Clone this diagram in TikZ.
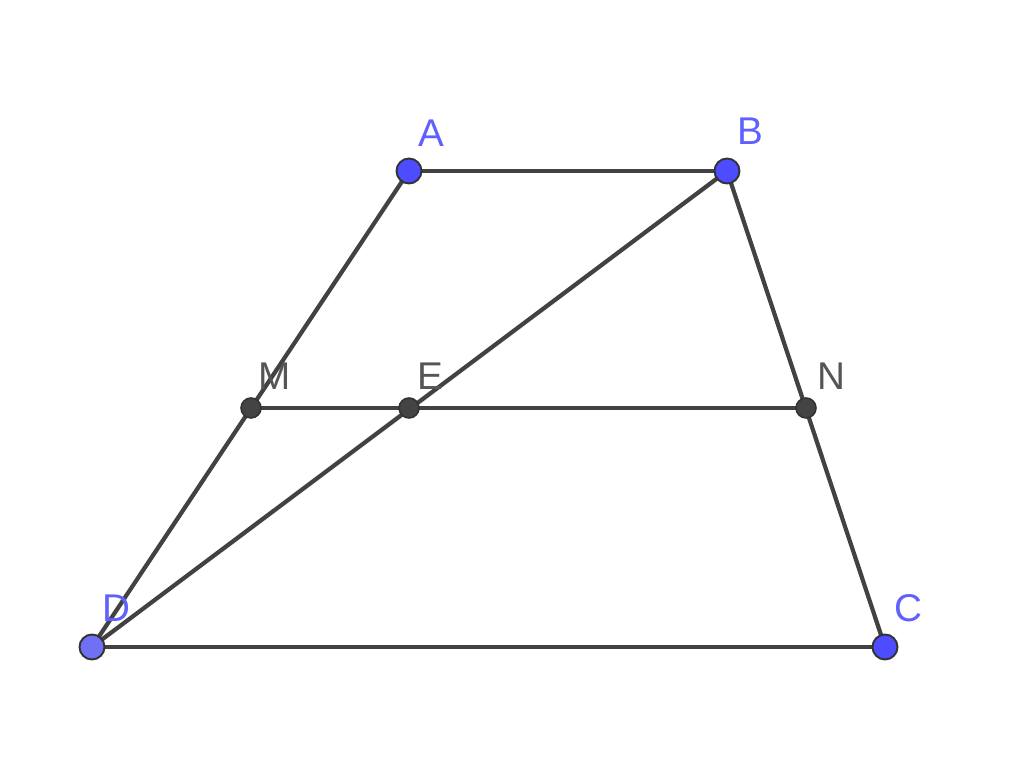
\documentclass[tikz,border=0pt]{standalone}
\usepackage{fontspec}
\setmainfont{Liberation Sans}
\definecolor{lineg}{HTML}{424242}
\definecolor{ptblue}{HTML}{4D4DFF}
\definecolor{ptblueD}{HTML}{7070F5}
\definecolor{lblblue}{HTML}{6060FF}
\definecolor{lblgray}{HTML}{555555}
\definecolor{ptdark}{HTML}{444444}
\begin{document}
\begin{tikzpicture}[x=0.02cm,y=-0.02cm,
  seg/.style={draw=lineg,line width=2.4pt},
  bpt/.style={circle,fill=ptblue,draw=black!80,line width=1.1pt,minimum size=0.5cm,inner sep=0pt},
  dpt/.style={circle,fill=ptdark,draw=black!80,line width=0.9pt,minimum size=0.4cm,inner sep=0pt},
  blbl/.style={text=lblblue,font=\fontsize{22}{22}\selectfont,inner sep=0pt},
  glbl/.style={text=lblgray,font=\fontsize{22}{22}\selectfont,inner sep=0pt}]
\useasboundingbox (0,0) rectangle (1024,759);
\coordinate (a) at (409,171);
\coordinate (b) at (727,171);
\coordinate (c) at (885,647);
\coordinate (d) at (92,647);
\coordinate (m) at (251,408);
\coordinate (e) at (409,408);
\coordinate (n) at (806,408);
\draw[seg] (a) -- (b);
\draw[seg] (a) -- (d);
\draw[seg] (b) -- (c);
\draw[seg] (d) -- (c);
\draw[seg] (b) -- (d);
\draw[seg] (m) -- (n);
\node[dpt] (M) at (m) {};
\node[dpt] (E) at (e) {};
\node[dpt] (N) at (n) {};
\node[bpt] (A) at (a) {};
\node[bpt] (B) at (b) {};
\node[bpt] (C) at (c) {};
\node[bpt,fill=ptblueD] (D) at (d) {};
\node[blbl] (lA) at (431,133) {A};
\node[blbl] (lB) at (750,131) {B};
\node[blbl] (lC) at (908,608) {C};
\node[blbl] (lD) at (116,608) {D};
\node[glbl] (lM) at (275,376) {M};
\node[glbl] (lE) at (430,376) {E};
\node[glbl] (lN) at (831,376) {N};
\end{tikzpicture}
\end{document}
